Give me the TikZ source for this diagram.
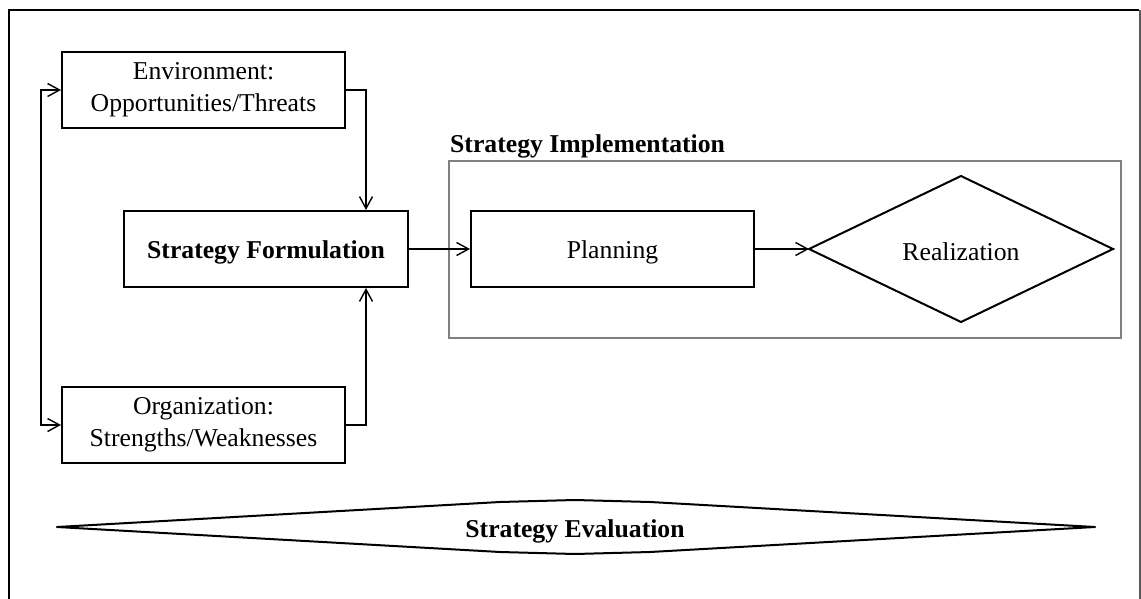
\documentclass[tikz,border=0pt]{standalone}
\usepackage{fontspec}
\setmainfont{Liberation Serif}
\usetikzlibrary{arrows.meta}
\begin{document}
\begin{tikzpicture}[x=1pt,y=-1pt,
  every node/.style={font=\fontsize{25.7pt}{32pt}\selectfont},
  box/.style={draw=black, line width=2pt, minimum width=283pt, minimum height=76pt, inner sep=0pt, align=center},
  onebox/.style={box, text depth=0pt, text height=18pt},
  conn/.style={line width=1.4pt, -{Straight Barb[length=12pt,width=13pt,line width=1.4pt]}},
  conn2/.style={line width=1.4pt, {Straight Barb[length=12pt,width=13pt,line width=1.4pt]}-{Straight Barb[length=12pt,width=13pt,line width=1.4pt]}}
]
\useasboundingbox (0,0) rectangle (1141,599);
% outer frame
\draw[line width=2.2pt] (9,620) -- (9,10) -- (1139,10);
\draw[line width=2pt, black!65] (1139.5,10) -- (1139.5,620);

% implementation group
\node[draw=black!50, line width=2pt, minimum width=672pt, minimum height=177pt, inner sep=0pt] (impl) at (785,249.5) {};
\node[anchor=base west, inner sep=0pt, font=\fontsize{25.7pt}{30pt}\selectfont\bfseries] (impllabel) at (450,153) {Strategy Implementation};

\node[box] (env) at (203.5,90) {Environment:\\Opportunities/Threats};
\node[onebox, minimum width=284pt, font=\fontsize{25.7pt}{30pt}\selectfont\bfseries] (form) at (266,249) {Strategy Formulation};
\node[box] (org) at (203.5,425) {Organization:\\Strengths/Weaknesses};
\node[onebox] (plan) at (612.5,249) {Planning};
\draw[line width=2pt] (809,249) coordinate (rw) -- (961,176) coordinate (rn) -- (1113,249) coordinate (re) -- (961,322) coordinate (rs) -- cycle;
\node[inner sep=0pt, text depth=0pt, text height=18pt] (real) at (961,251) {Realization};

% evaluation shape
\draw[line width=2pt, line join=round] (57,527) coordinate (ew) -- (500,502) -- (575,500) -- (650,502) -- (1095,527) coordinate (ee) -- (650,552) -- (575,554) -- (500,552) -- cycle;
\node[inner sep=0pt, text depth=0pt, text height=18pt, font=\fontsize{25.7pt}{30pt}\selectfont\bfseries] (eval) at (575,528) {Strategy Evaluation};

% connectors
\coordinate (L) at (41,0);
\coordinate (R) at (366,0);
\draw[conn2] (env.west) -- (env.west -| L) -- (org.west -| L) -- (org.west);
\draw[conn] (env.east) -| (form.north -| R);
\draw[conn] (org.east) -| (form.south -| R);
\draw[conn] (form.east) -- (plan.west);
\draw[conn] (plan.east) -- (rw);
\end{tikzpicture}
\end{document}
